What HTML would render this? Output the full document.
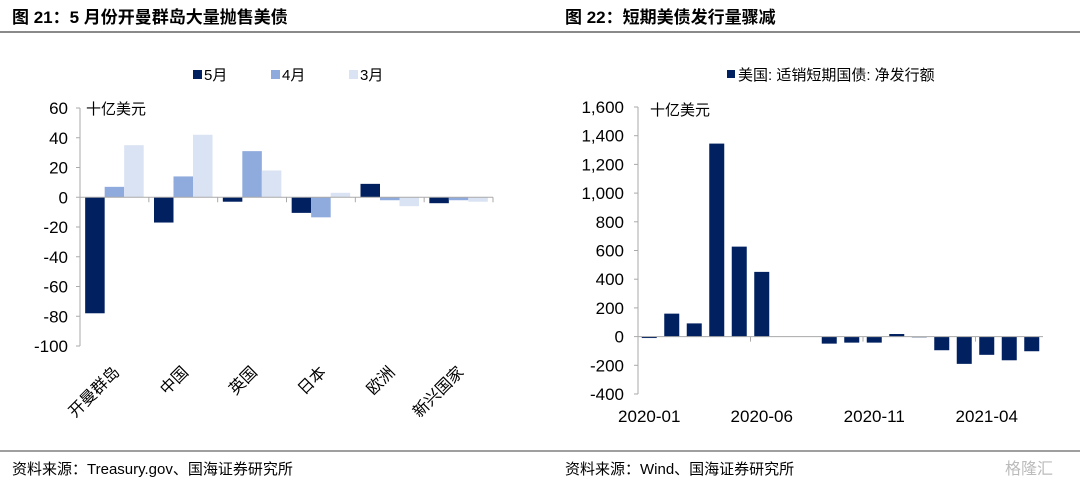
<!DOCTYPE html>
<html><head><meta charset="utf-8"><style>
body{margin:0;width:1080px;height:484px;background:#fff;overflow:hidden;font-family:"Liberation Sans","Noto Sans CJK SC",sans-serif}
svg text{font-family:"Liberation Sans","Noto Sans CJK SC",sans-serif}
</style></head><body>
<svg width="1080" height="484">
<text x="12" y="23" font-size="17" font-weight="bold" fill="#000">图 21：5 月份开曼群岛大量抛售美债</text>
<text x="565" y="23" font-size="17" font-weight="bold" fill="#000">图 22：短期美债发行量骤减</text>
<line x1="0" y1="32" x2="1080" y2="32" stroke="#444" stroke-width="1.2"/>
<line x1="0" y1="451" x2="1080" y2="451" stroke="#666" stroke-width="1.2"/>
<text x="12" y="474" font-size="15" fill="#000">资料来源：Treasury.gov、国海证券研究所</text>
<text x="565" y="474" font-size="15" fill="#000">资料来源：Wind、国海证券研究所</text>
<text x="1005" y="474" font-size="16" fill="#bbb">格隆汇</text>
<g id="left"></g>
<g id="right"></g>
</svg>
<script>
const NS="http://www.w3.org/2000/svg";
function mk(p,t,a){const e=document.createElementNS(NS,t);for(const k in a)e.setAttribute(k,a[k]);p.appendChild(e);return e;}
// Left chart data
const leftCats=["开曼群岛","中国","英国","日本","欧洲","新兴国家"];
const leftSeriesNames=["5月","4月","3月"];
const may=[-78,-17,-3,-10.5,9,-4];
const apr=[7,14,31,-13.5,-2,-2];
const mar=[35,42,18,3,-6,-3];
const leftTicks=[60,40,20,0,-20,-40,-60,-80,-100];
// Right chart data
const rightCats=["2020-01","2020-02","2020-03","2020-04","2020-05","2020-06","2020-07","2020-08","2020-09","2020-10","2020-11","2020-12","2021-01","2021-02","2021-03","2021-04","2021-05","2021-06"];
const rightVals=[-10,160,92,1345,627,451,0,0,-49,-42,-42,18,-5,-95,-190,-127,-165,-102];
const rightTicks=[1600,1400,1200,1000,800,600,400,200,0,-200,-400];
const rightLabelIdx=[0,5,10,15];
const colors=["#002060","#8FAADC","#DAE3F3"];

(function(){
 const g=document.getElementById('left');
 const x0=80,x1=493,yTop=108,yBot=346,vMax=60,vMin=-100;
 const y=v=>yTop+(vMax-v)/(vMax-vMin)*(yBot-yTop);
 const cw=(x1-x0)/leftCats.length;
 const series=[may,apr,mar];
 mk(g,'line',{x1:x0,y1:yTop,x2:x0,y2:yBot,stroke:'#aaa'});
 leftTicks.forEach(t=>{mk(g,'line',{x1:x0-4,y1:y(t),x2:x0,y2:y(t),stroke:'#aaa'});
  const tx=mk(g,'text',{x:x0-12,y:y(t)+6,'text-anchor':'end','font-size':17,fill:'#000'});tx.textContent=t;
  
  });
 const u=mk(g,'text',{x:86,y:114,'font-size':15,fill:'#000'});u.textContent='十亿美元';
 
 
 const bw=19.5;
 leftCats.forEach((c,i)=>{
  const cx0=x0+i*cw+(cw-3*bw)/2;
  series.forEach((s,j)=>{const v=s[i];
   const r=mk(g,'rect',{x:cx0+j*bw,y:Math.min(y(v),y(0)),width:bw,height:Math.abs(y(v)-y(0)),fill:colors[j]});
   
   });
  const cx=x0+(i+0.5)*cw;
  const t=mk(g,'text',{x:cx+6,y:373,'text-anchor':'end','font-size':16,fill:'#000',transform:`rotate(-45 ${cx+6} 373)`});t.textContent=c;
  
  
  mk(g,'line',{x1:x0+(i+1)*cw,y1:y(0),x2:x0+(i+1)*cw,y2:y(0)+5,stroke:'#aaa'});
 });
 mk(g,'line',{x1:x0,y1:y(0),x2:x1,y2:y(0),stroke:'#aaa'});
 const lx=[193,271,349];
 leftSeriesNames.forEach((n,j)=>{mk(g,'rect',{x:lx[j],y:70,width:9,height:9,fill:colors[j]});
  const t=mk(g,'text',{x:lx[j]+11,y:80,'font-size':15,fill:'#000'});t.textContent=n;
  
  });
})();

(function(){
 const g=document.getElementById('right');
 const x0=638,x1=1043,yTop=107,yBot=394,vMax=1600,vMin=-400;
 const y=v=>yTop+(vMax-v)/(vMax-vMin)*(yBot-yTop);
 const cw=(x1-x0)/rightCats.length;
 mk(g,'line',{x1:x0,y1:yTop,x2:x0,y2:yBot,stroke:'#aaa'});
 rightTicks.forEach(t=>{mk(g,'line',{x1:x0-4,y1:y(t),x2:x0,y2:y(t),stroke:'#aaa'});
  const tx=mk(g,'text',{x:x0-14,y:y(t)+6,'text-anchor':'end','font-size':17,fill:'#000'});tx.textContent=t.toLocaleString('en-US');
  
  });
 const u=mk(g,'text',{x:650,y:115,'font-size':15,fill:'#000'});u.textContent='十亿美元';
 
 
 const bw=15;
 rightCats.forEach((c,i)=>{const v=rightVals[i];
  const r=mk(g,'rect',{x:x0+i*cw+(cw-bw)/2,y:Math.min(y(v),y(0)),width:bw,height:Math.abs(y(v)-y(0)),fill:'#002060'});
  
  });
 mk(g,'line',{x1:x0,y1:y(0),x2:x1,y2:y(0),stroke:'#aaa'});
 rightLabelIdx.forEach(i=>{
  mk(g,'line',{x1:x0+i*cw,y1:y(0),x2:x0+i*cw,y2:y(0)+5,stroke:'#aaa'});
  const t=mk(g,'text',{x:x0+(i+0.5)*cw,y:422,'text-anchor':'middle','font-size':17,fill:'#000'});t.textContent=rightCats[i];
  
  });
 mk(g,'rect',{x:727,y:70,width:8,height:8,fill:'#002060'});
 const lt=mk(g,'text',{x:738,y:80,'font-size':15,fill:'#000'});lt.textContent='美国: 适销短期国债: 净发行额';
 
 
})();
</script>
</body></html>
